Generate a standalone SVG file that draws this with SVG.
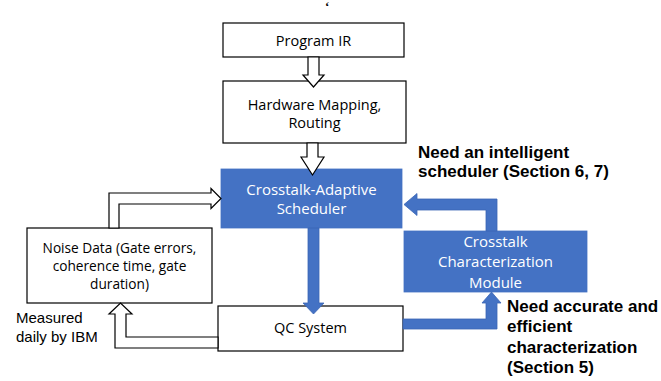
<svg xmlns="http://www.w3.org/2000/svg" width="661" height="381" viewBox="0 0 661 381">
<style>
.box{fill:#fff;stroke:#000;stroke-width:1.2}
.blue{fill:#4472C4;stroke:#4472C4;stroke-width:0.8}
.t{font-family:"Open Sans","Noto Sans",sans-serif;font-size:14.5px;fill:#000;text-anchor:middle}
.tn{font-family:"Open Sans","Noto Sans",sans-serif;font-size:13.7px;fill:#000;text-anchor:middle}
.tw{font-family:"Open Sans","Noto Sans",sans-serif;font-size:15px;fill:#fff;text-anchor:middle}
.hol{fill:#fff;stroke:#000;stroke-width:1.2;stroke-linejoin:miter}
.ba{fill:#4472C4;stroke:#3B66B5;stroke-width:0.8}
.b{font-family:"Liberation Sans",Arial,sans-serif;font-size:17px;font-weight:bold;fill:#000}
.n{font-family:"Liberation Sans",Arial,sans-serif;font-size:15px;fill:#000}
</style>
<rect width="661" height="381" fill="#fff"/>
<text x="325" y="11" font-family="Liberation Serif,serif" font-size="13" font-weight="bold" fill="#000">‘</text>
<g id="program-ir"><rect class="box" x="223" y="23" width="181" height="34"/><text class="t" x="313.5" y="46">Program IR</text></g>
<g id="hardware-mapping"><rect class="box" x="223" y="81" width="183" height="62"/><text class="t" x="314.5" y="110">Hardware Mapping,</text><text class="t" x="314.5" y="128">Routing</text></g>
<g id="scheduler"><rect class="blue" x="221" y="169" width="181" height="59"/><text class="tw" x="311.5" y="195">Crosstalk-Adaptive</text><text class="tw" x="311.5" y="214">Scheduler</text></g>
<g id="noise-data"><rect class="box" x="27" y="228" width="185" height="75"/><text class="tn" x="119.5" y="253">Noise Data (Gate errors,</text><text class="tn" x="119.5" y="271">coherence time, gate</text><text class="tn" x="119.5" y="289">duration)</text></g>
<g id="ccm"><rect class="blue" x="404" y="231" width="183" height="61"/><text class="tw" x="495.5" y="247">Crosstalk</text><text class="tw" x="495.5" y="267">Characterization</text><text class="tw" x="495.5" y="288">Module</text></g>
<g id="qc-system"><rect class="box" x="218" y="306" width="185" height="45"/><text class="t" x="310.5" y="333">QC System</text></g>
<g id="connectors">
<polygon class="hol" points="308,57 319,57 319,75 324,75 313.5,87 303,75 308,75"/>
<polygon class="hol" points="307,143 318,143 318,157 324,157 312.5,175 301,157 307,157"/>
<polygon class="hol" points="109,228 109,193 211,193 211,188.5 221,198.5 211,208.5 211,204 119,204 119,228"/>
<polygon class="hol" points="218,337 126,337 126,314 132,314 120.5,303 109,314 115,314 115,348 218,348"/>
<polygon class="ba" points="308,228 319,228 319,303 324,303 313.5,314 303,303 308,303"/>
<polygon class="ba" points="486,231 486,210 417,210 417,215.5 404,204.5 417,193.5 417,199 497,199 497,231"/>
<polygon class="ba" points="403,319 486,319 486,303 482,303 491.5,292 501,303 497,303 497,329 403,329"/>
</g>
<text class="b" x="418" y="158">Need an intelligent</text>
<text class="b" x="418" y="177">scheduler (Section 6, 7)</text>
<text class="b" x="507" y="312">Need accurate and</text>
<text class="b" x="507" y="332">efficient</text>
<text class="b" x="507" y="353">characterization</text>
<text class="b" x="507" y="373">(Section 5)</text>
<text class="n" x="16" y="323">Measured</text>
<text class="n" x="16" y="342">daily by IBM</text>
</svg>
